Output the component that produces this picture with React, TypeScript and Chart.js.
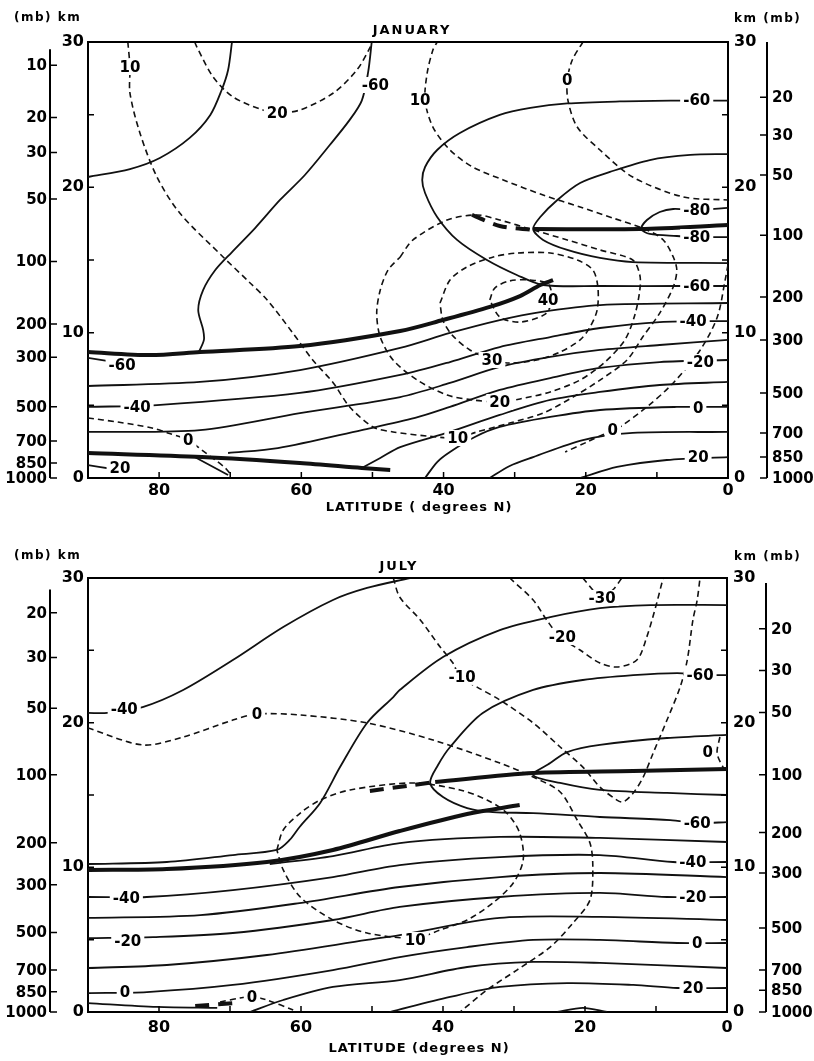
import React, { useEffect, useRef } from 'react';
import { Chart, registerables } from 'chart.js';

Chart.register(...registerables);

type Pt = [number, number]; // [latitude (deg N), height (km)]
type Lbl = [string, number, number];

const FONT = "'DejaVu Sans', sans-serif";

// ---------------- axis data ----------------
const latTickLabels = [80, 60, 40, 20, 0];
const latInnerTicks = [80, 70, 60, 50, 40, 30, 20, 10];
const kmTickLabels = [0, 10, 20, 30];
const kmInnerTicks = [5, 10, 15, 20, 25];

const janMbLeftText = ['10', '20', '30', '50', '100', '200', '300', '500', '700', '850', '1000'];
const janMbLeftKm = [28.4, 24.8, 22.4, 19.2, 14.9, 10.6, 8.3, 4.9, 2.55, 1.03, 0];
const janMbRightText = ['20', '30', '50', '100', '200', '300', '500', '700', '850', '1000'];
const janMbRightKm = [26.2, 23.6, 20.85, 16.7, 12.45, 9.5, 5.85, 3.1, 1.44, 0];
const julMbLeftText = ['20', '30', '50', '100', '200', '300', '500', '700', '850', '1000'];
const julMbLeftKm = [27.6, 24.5, 21.0, 16.4, 11.7, 8.8, 5.5, 2.9, 1.4, 0];
const julMbRightText = ['20', '30', '50', '100', '200', '300', '500', '700', '850', '1000'];
const julMbRightKm = [26.5, 23.6, 20.7, 16.4, 12.4, 9.6, 5.8, 2.9, 1.5, 0];

// ---------------- JANUARY: temperature (solid) ----------------
const janTUpperLeft: Pt[] = [[69.75, 30], [70.3, 28.07], [71.2, 26.7], [72.8, 24.98], [75.7, 23.4], [79.9, 22.02], [84.1, 21.26], [90, 20.71]];
const janTm60Top: Pt[] = [[50.1, 30], [50.6, 27.94], [51.5, 25.97], [53.2, 24.64], [56.0, 22.91], [59.5, 20.85], [63.0, 19.13], [66.5, 17.2], [69.75, 15.55], [72.1, 14.31], [73.8, 12.94], [74.5, 11.56], [73.8, 10.18], [73.7, 9.5], [74.4, 8.67]];
const janTm60Loop: Pt[] = [[0, 25.97], [4.4, 25.97], [7.0, 25.97], [15.2, 25.91], [22.6, 25.77], [27.8, 25.46], [32.1, 24.98], [37.7, 23.74], [40.9, 22.57], [42.6, 21.4], [43.0, 20.51], [42.6, 19.61], [40.9, 17.96], [38.1, 16.38], [33.9, 15.0], [29.7, 13.97], [26.0, 13.28], [18.0, 13.21], [7.0, 13.21], [0, 13.21]];
const janTm70: Pt[] = [[0, 22.29], [5.3, 22.23], [11.0, 21.88], [16.6, 21.06], [20.8, 20.3], [24.0, 19.13], [26.4, 17.96], [27.4, 17.13], [26.0, 16.38], [22.6, 15.69], [18.0, 15.14], [13.4, 14.86], [0, 14.79]];
const janTm80: Pt[] = [[0, 18.58], [4.4, 18.44], [7.7, 18.51], [9.6, 18.3], [11.4, 17.75], [12.2, 17.13], [11.0, 16.79], [7.2, 16.65], [4.4, 16.58], [0, 16.58]];
const janTm50: Pt[] = [[90, 6.33], [74.25, 6.61], [60.2, 7.43], [46.1, 8.95], [39.1, 9.98], [32.1, 10.87], [26.4, 11.42], [18.0, 11.9], [0, 12.04]];
const janTm40: Pt[] = [[90, 4.89], [80.3, 5.02], [60.2, 5.85], [46.1, 7.09], [39.1, 7.98], [32.1, 9.01], [25.0, 9.7], [18.0, 10.32], [9.6, 10.73], [0, 10.8]];
const janTm30: Pt[] = [[90, 3.17], [74.25, 3.3], [60.2, 4.47], [46.1, 5.57], [39.1, 6.54], [32.1, 7.64], [25.0, 8.33], [18.0, 8.81], [9.6, 9.15], [0, 9.5]];
const janTm20: Pt[] = [[70.3, 1.72], [63.3, 2.06], [51.5, 3.3], [44.0, 4.13], [39.1, 4.89], [32.1, 6.06], [25.0, 6.88], [18.0, 7.57], [9.6, 7.98], [0, 8.12]];
const janTm10: Pt[] = [[51.5, 0.69], [48.9, 1.38], [46.1, 2.13], [39.1, 3.17], [32.1, 4.34], [25.0, 5.37], [18.0, 5.92], [9.6, 6.4], [0, 6.61]];
const janT0: Pt[] = [[42.6, 0], [40.9, 1.1], [39.1, 1.79], [35.6, 2.82], [32.1, 3.51], [25.0, 4.2], [18.0, 4.68], [7.2, 4.89], [0, 4.89]];
const janT10: Pt[] = [[33.5, 0], [30.7, 0.83], [27.4, 1.44], [20.4, 2.61], [13.4, 3.1], [0, 3.17]];
const janT20: Pt[] = [[20.8, 0], [15.6, 0.76], [8.6, 1.24], [0, 1.44]];
const janTm60Stub: Pt[] = [[90, 8.26], [86.0, 7.95]];
const janTm20Stub: Pt[] = [[90, 0.89], [86.5, 0.62]];
const janTm20Surf: Pt[] = [[75.0, 1.44], [70.3, 0.21]];
// tropopause / inversion (thick)
const janTropPolar: Pt[] = [[90, 8.67], [81.3, 8.46], [74.25, 8.67], [60.2, 9.08], [46.1, 10.12], [40.1, 10.87], [33.5, 11.77], [29.25, 12.52], [26.4, 13.28], [24.6, 13.62]];
const janTropTropical: Pt[] = [[27.4, 17.13], [12.4, 17.13], [0, 17.41]];
const janInversion: Pt[] = [[90, 1.72], [74.0, 1.44], [60.2, 1.03], [51.5, 0.69], [47.5, 0.55]];
const janTropBreak: Pt[] = [[36.0, 18.1], [32.1, 17.34], [27.4, 17.07]];
// zonal wind (dashed)
const janU10: Pt[] = [[84.4, 30], [84.1, 28.28], [84.1, 26.49], [82.7, 23.74], [80.3, 20.71], [77.1, 18.23], [71.0, 15.21], [67.2, 13.42], [64.8, 12.25], [61.2, 9.98], [58.4, 8.12], [55.5, 6.54], [53.2, 4.89], [49.9, 3.51], [47.1, 3.17], [42.3, 2.89], [38.1, 2.75], [35.3, 3.17], [30.7, 3.78], [26.0, 4.47], [21.8, 5.57], [18.0, 6.74], [14.2, 8.12], [12.0, 9.7], [9.6, 11.35], [7.7, 13.14], [7.2, 14.31], [7.7, 15.21], [9.1, 16.38], [11.4, 17.07], [16.2, 17.89], [20.8, 18.65], [26.0, 19.47], [31.6, 20.51], [35.9, 21.4], [39.1, 22.57], [41.5, 24.15], [42.6, 25.97], [42.3, 27.87], [41.5, 29.45], [40.9, 30]];
const janU20Top: Pt[] = [[75.0, 30], [74.7, 29.66], [72.4, 27.59], [69.6, 26.22], [65.4, 25.32], [63.4, 25.12], [60.2, 25.32], [55.5, 26.49], [52.2, 28.07], [50.3, 29.66], [50.1, 30]];
const janU0Top: Pt[] = [[20.4, 30], [21.9, 28.76], [22.6, 27.39], [22.5, 25.97], [21.2, 24.15], [18.0, 22.57], [13.4, 20.71], [6.3, 19.34], [0, 19.13]];
const janU20Loop: Pt[] = [[46.1, 15.21], [44.3, 16.38], [39.5, 17.75], [35.3, 18.1], [32.1, 17.75], [27.4, 17.07], [22.6, 16.38], [18.0, 15.69], [13.4, 15.0], [12.4, 13.97], [12.4, 12.94], [13.1, 11.22], [14.5, 9.5], [17.3, 7.98], [20.8, 6.74], [25.0, 5.92], [29.25, 5.44], [32.1, 5.23], [35.9, 5.37], [39.5, 5.71], [43.7, 6.74], [47.1, 8.12], [48.9, 9.7], [49.4, 11.35], [48.9, 12.94], [47.8, 14.31], [46.1, 15.21]];
const janU30Loop: Pt[] = [[40.5, 12.04], [39.1, 13.62], [36.7, 14.52], [33.0, 15.21], [29.7, 15.48], [25.0, 15.48], [21.2, 15.0], [19.0, 14.31], [18.3, 13.14], [18.4, 11.56], [19.4, 10.39], [20.8, 9.5], [23.6, 8.67], [26.9, 8.12], [30.7, 7.91], [33.0, 8.12], [36.3, 8.81], [38.8, 9.84], [40.1, 10.87], [40.5, 12.04]];
const janU40Loop: Pt[] = [[33.5, 12.25], [32.8, 13.07], [30.7, 13.56], [27.8, 13.62], [25.3, 13.35], [24.75, 12.25], [25.7, 11.28], [29.25, 10.73], [32.1, 11.08], [33.5, 12.25]];
const janU0Low: Pt[] = [[0, 14.66], [0.4, 13.62], [1.5, 11.08], [3.9, 8.81], [7.7, 6.54], [11.4, 4.89], [15.2, 3.51], [16.2, 3.3], [19.8, 2.48], [22.9, 1.79]];
const janU0Left: Pt[] = [[90, 4.13], [85.8, 3.85], [81.0, 3.44], [78.8, 3.1], [75.9, 2.61], [74.0, 1.93], [72.1, 1.24], [70.7, 0.69], [69.75, 0.14]];

const janLabels: Lbl[] = [
  ['10', 84.1, 28.28], ['20', 63.4, 25.12], ['-60', 49.6, 27.04], ['10', 43.3, 25.97], ['0', 22.6, 27.39],
  ['-60', 4.4, 25.97], ['-80', 4.4, 18.44], ['-80', 4.4, 16.58], ['-60', 4.4, 13.21], ['40', 25.3, 12.25],
  ['-40', 4.9, 10.8], ['30', 33.2, 8.12], ['-20', 3.9, 7.98], ['20', 32.1, 5.23], ['0', 4.2, 4.82],
  ['10', 38.0, 2.75], ['0', 16.2, 3.3], ['20', 4.2, 1.44], ['-60', 85.2, 7.78], ['-40', 83.1, 4.89],
  ['0', 75.9, 2.61], ['20', 85.5, 0.69],
];

// ---------------- JULY: temperature (solid) ----------------
const julTm40Upper: Pt[] = [[90, 20.67], [87.3, 20.67], [82.3, 21.08], [76.6, 22.26], [69.6, 24.33], [62.5, 26.61], [55.5, 28.48], [50.7, 29.31], [44.65, 30]];
const julTm50: Pt[] = [[90, 10.23], [78.9, 10.37], [69.6, 10.85], [63.4, 11.2], [61.6, 11.89], [60.2, 12.79], [57.3, 14.45], [54.5, 16.93], [50.7, 19.98], [47.0, 21.77], [46.1, 22.26], [40.0, 24.54], [32.0, 26.4], [24.9, 27.3], [17.9, 27.92], [10.8, 28.13], [0, 28.13]];
const julTm50Low: Pt[] = [[64.4, 10.23], [55.5, 10.78], [46.1, 11.68], [32.0, 12.1], [17.9, 12.03], [0, 11.75]];
const julTm60: Pt[] = [[0, 23.29], [3.8, 23.29], [7.0, 23.43], [13.2, 23.29], [20.3, 22.95], [27.3, 22.26], [34.4, 20.67], [39.0, 18.32], [40.7, 17.07], [41.8, 15.83], [40.0, 14.86], [36.6, 14.1], [33.0, 13.82], [27.3, 13.75], [17.9, 13.48], [8.0, 13.27], [3.8, 13.06], [0, 13.13]];
const julTm70: Pt[] = [[0, 19.15], [8.45, 18.94], [17.9, 18.46], [22.5, 17.97], [24.9, 17.21], [27.3, 16.38], [23.5, 15.83], [17.9, 15.35], [8.45, 15.14], [0, 15.0]];
const julTm40: Pt[] = [[90, 7.95], [81.7, 7.95], [69.6, 8.43], [55.5, 9.33], [46.1, 10.16], [32.0, 10.71], [17.9, 10.85], [7.6, 10.37], [0, 10.37]];
const julTm30: Pt[] = [[90, 6.5], [74.2, 6.7], [60.2, 7.53], [46.1, 8.64], [32.0, 9.33], [17.9, 9.61], [0, 9.33]];
const julTm20: Pt[] = [[90, 5.11], [80.8, 5.18], [69.6, 5.46], [55.5, 6.36], [46.1, 7.26], [32.0, 7.95], [17.9, 8.23], [8.45, 7.95], [0, 7.95]];
const julTm10: Pt[] = [[90, 3.04], [78.9, 3.25], [64.8, 3.94], [50.7, 4.98], [46.1, 5.32], [32.0, 6.5], [17.9, 6.57], [0, 6.36]];
const julT0: Pt[] = [[90, 1.31], [81.7, 1.38], [69.6, 1.87], [55.5, 2.9], [46.1, 3.8], [36.6, 4.49], [27.3, 4.98], [17.9, 4.98], [7.0, 4.77], [0, 4.77]];
const julT10: Pt[] = [[67.2, 0], [62.5, 0.83], [55.5, 1.73], [46.1, 2.21], [36.6, 3.11], [27.3, 3.46], [17.9, 3.39], [0, 3.04]];
const julT20: Pt[] = [[47.5, 0], [39.0, 1.04], [32.0, 1.73], [22.5, 2.0], [13.2, 1.87], [7.0, 1.66], [0, 1.66]];
const julT25: Pt[] = [[23.9, 0], [20.3, 0.28], [16.9, 0]];
const julTSurface: Pt[] = [[90, 0.62], [80.3, 0.35], [71.8, 0.28]];
// tropopause (thick)
const julTropPolar: Pt[] = [[90, 9.82], [78.9, 9.88], [64.8, 10.37], [55.5, 11.2], [46.1, 12.51], [36.6, 13.69], [29.2, 14.31]];
const julTropTropical: Pt[] = [[41.1, 15.9], [27.3, 16.52], [13.2, 16.66], [0, 16.8]];
const julTropBreak: Pt[] = [[50.3, 15.28], [44.2, 15.69], [41.1, 15.9]];
const julSurfBreak: Pt[] = [[74.9, 0.41], [69.3, 0.62]];
// zonal wind (dashed)
const julU0: Pt[] = [[90, 19.63], [82.3, 18.46], [76.6, 19.01], [69.6, 20.18], [66.2, 20.6], [60.1, 20.53], [50.7, 19.98], [41.4, 18.8], [32.0, 17.21], [27.3, 16.24], [23.5, 15.21], [21.1, 13.27], [19.3, 11.68], [18.9, 10.02], [19.3, 7.74], [21.7, 6.15], [24.9, 4.49], [29.6, 2.9], [33.8, 1.52], [37.6, 0]];
const julUm10: Pt[] = [[47.0, 30], [46.1, 28.69], [43.2, 27.1], [40.4, 25.23], [38.6, 24.12], [37.6, 23.16], [35.2, 22.46], [32.0, 21.57], [27.3, 19.98], [23.5, 18.32], [20.3, 16.93], [17.9, 15.55], [15.5, 14.65], [14.6, 14.52], [13.2, 15.14], [11.8, 16.24], [10.4, 17.9], [8.45, 20.18], [6.6, 22.46], [5.6, 24.33], [4.8, 27.1], [4.2, 28.48], [3.8, 30]];
const julUm20: Pt[] = [[30.6, 30], [27.3, 28.48], [25.4, 27.1], [23.5, 25.92], [20.7, 25.02], [17.9, 24.12], [15.5, 23.85], [12.7, 24.33], [11.3, 25.92], [9.9, 28.27], [9.0, 30]];
const julUm30: Pt[] = [[20.3, 30], [18.9, 29.17], [17.9, 28.62], [16.1, 29.17], [14.8, 30]];
const julU0Right: Pt[] = [[1.0, 19.01], [1.4, 17.9], [0.56, 16.93], [0, 16.73]];
const julU10: Pt[] = [[63.4, 11.2], [62.5, 12.58], [60.1, 13.75], [57.3, 14.65], [53.1, 15.35], [44.2, 15.83], [37.6, 15.35], [33.8, 14.65], [31.0, 13.75], [29.2, 12.37], [28.7, 10.51], [30.1, 8.92], [33.0, 7.53], [36.6, 6.36], [40.4, 5.67], [43.9, 5.11], [50.7, 5.46], [55.5, 6.36], [60.1, 7.95], [62.5, 9.82], [63.4, 11.2]];
const julU0Surf: Pt[] = [[71.4, 0.69], [68.6, 0.97], [66.9, 1.04], [64.8, 0.83], [61.1, 0.14]];

const julLabels: Lbl[] = [
  ['-40', 84.9, 20.94], ['0', 66.2, 20.6], ['-10', 37.3, 23.16], ['-20', 23.2, 25.92], ['-30', 17.6, 28.62],
  ['-60', 3.8, 23.29], ['0', 2.7, 17.97], ['-60', 4.2, 13.06], ['-40', 4.8, 10.37], ['-20', 4.8, 7.95],
  ['0', 4.2, 4.77], ['20', 4.8, 1.66], ['-40', 84.6, 7.88], ['-20', 84.4, 4.91], ['0', 84.8, 1.38],
  ['10', 43.9, 4.98], ['0', 66.9, 1.04],
];

// ---------------- styles ----------------
const STYLE: Record<string, { w: number; dash: number[] }> = {
  thin: { w: 1.8, dash: [] },
  dash: { w: 1.6, dash: [6, 4] },
  thick: { w: 4, dash: [] },
  thickdash: { w: 4, dash: [14, 9] },
};

type Series = [Pt[], string];

const janSeries: Series[] = [
  [janTUpperLeft, 'thin'], [janTm60Top, 'thin'], [janTm60Loop, 'thin'], [janTm70, 'thin'], [janTm80, 'thin'],
  [janTm50, 'thin'], [janTm40, 'thin'], [janTm30, 'thin'], [janTm20, 'thin'], [janTm10, 'thin'], [janT0, 'thin'],
  [janT10, 'thin'], [janT20, 'thin'], [janTm60Stub, 'thin'], [janTm20Stub, 'thin'], [janTm20Surf, 'thin'],
  [janTropPolar, 'thick'], [janTropTropical, 'thick'], [janInversion, 'thick'], [janTropBreak, 'thickdash'],
  [janU10, 'dash'], [janU20Top, 'dash'], [janU0Top, 'dash'], [janU20Loop, 'dash'], [janU30Loop, 'dash'],
  [janU40Loop, 'dash'], [janU0Low, 'dash'], [janU0Left, 'dash'],
];

const julSeries: Series[] = [
  [julTm40Upper, 'thin'], [julTm50, 'thin'], [julTm50Low, 'thin'], [julTm60, 'thin'], [julTm70, 'thin'],
  [julTm40, 'thin'], [julTm30, 'thin'], [julTm20, 'thin'], [julTm10, 'thin'], [julT0, 'thin'], [julT10, 'thin'],
  [julT20, 'thin'], [julT25, 'thin'], [julTSurface, 'thin'],
  [julTropPolar, 'thick'], [julTropTropical, 'thick'], [julTropBreak, 'thickdash'], [julSurfBreak, 'thickdash'],
  [julU0, 'dash'], [julUm10, 'dash'], [julUm20, 'dash'], [julUm30, 'dash'], [julU0Right, 'dash'],
  [julU10, 'dash'], [julU0Surf, 'dash'],
];

interface Spec {
  height: number;
  padding: { left: number; right: number; top: number; bottom: number };
  xAxisHeight: number;
  xTickPad: number;
  title: string;
  titleDx: number;
  xTitle: string;
  xTitleY: number;
  cornerY: number;
  series: Series[];
  labels: Lbl[];
  mbLeftText: string[];
  mbLeftKm: number[];
  mbLeftTop: number;
  mbRightText: string[];
  mbRightKm: number[];
  mbRightTop: number;
}

function makeDecor(spec: Spec) {
  return {
    id: 'decor',
    afterDatasetsDraw(chart: any) {
      const ctx = chart.ctx;
      const x = chart.scales.x;
      const y = chart.scales.y;
      ctx.save();
      ctx.font = `bold 15px ${FONT}`;
      ctx.textAlign = 'center';
      ctx.textBaseline = 'middle';
      for (const [t, lat, km] of spec.labels) {
        const px = x.getPixelForValue(lat);
        const py = y.getPixelForValue(km);
        const w = ctx.measureText(t).width;
        ctx.fillStyle = '#fff';
        ctx.fillRect(px - w / 2 - 3, py - 8, w + 6, 16);
        ctx.fillStyle = '#000';
        ctx.fillText(t, px, py + 1);
      }
      ctx.restore();
    },
    afterDraw(chart: any) {
      const ctx = chart.ctx;
      const { left, right, top, bottom } = chart.chartArea;
      const x = chart.scales.x;
      const y = chart.scales.y;
      ctx.save();
      ctx.strokeStyle = '#000';
      ctx.fillStyle = '#000';
      // top frame
      ctx.lineWidth = 2;
      ctx.beginPath();
      ctx.moveTo(left - 1, top);
      ctx.lineTo(right + 1, top);
      ctx.stroke();
      // inner ticks
      ctx.lineWidth = 1.5;
      ctx.beginPath();
      for (const v of latInnerTicks) {
        const px = x.getPixelForValue(v);
        ctx.moveTo(px, bottom);
        ctx.lineTo(px, bottom - 6);
      }
      for (const v of kmInnerTicks) {
        const py = y.getPixelForValue(v);
        ctx.moveTo(left, py);
        ctx.lineTo(left + 6, py);
        ctx.moveTo(right, py);
        ctx.lineTo(right - 6, py);
      }
      ctx.stroke();
      // pressure axes
      const lx = left - 38;
      const rx = right + 39;
      ctx.lineWidth = 2;
      ctx.beginPath();
      ctx.moveTo(lx, y.getPixelForValue(spec.mbLeftTop));
      ctx.lineTo(lx, bottom);
      ctx.moveTo(rx, y.getPixelForValue(spec.mbRightTop));
      ctx.lineTo(rx, bottom);
      ctx.stroke();
      ctx.lineWidth = 1.5;
      ctx.beginPath();
      spec.mbLeftKm.forEach((km) => {
        const py = y.getPixelForValue(km);
        ctx.moveTo(lx, py);
        ctx.lineTo(lx + 7, py);
      });
      spec.mbRightKm.forEach((km) => {
        const py = y.getPixelForValue(km);
        ctx.moveTo(rx, py);
        ctx.lineTo(rx - 7, py);
      });
      ctx.stroke();
      ctx.font = `bold 15px ${FONT}`;
      ctx.textBaseline = 'middle';
      ctx.textAlign = 'right';
      spec.mbLeftText.forEach((t, i) => ctx.fillText(t, lx - 3, y.getPixelForValue(spec.mbLeftKm[i]) + 1));
      ctx.textAlign = 'left';
      spec.mbRightText.forEach((t, i) => ctx.fillText(t, rx + 5, y.getPixelForValue(spec.mbRightKm[i]) + 1));
      // titles
      (ctx as any).letterSpacing = '2px';
      ctx.font = `bold 13px ${FONT}`;
      ctx.textAlign = 'center';
      ctx.fillText(spec.title, left + spec.titleDx, top - 11);
      (ctx as any).letterSpacing = '1px';
      ctx.font = `bold 13px ${FONT}`;
      ctx.fillText(spec.xTitle, left + 331, spec.xTitleY);
      (ctx as any).letterSpacing = '1.5px';
      ctx.font = `bold 12px ${FONT}`;
      ctx.textAlign = 'left';
      ctx.fillText('(mb) km', 14, spec.cornerY);
      ctx.fillText('km (mb)', 734, spec.cornerY + 1);
      ctx.restore();
    },
  };
}

function buildConfig(spec: Spec): any {
  const tickFont = { family: FONT, size: 16, weight: 'bold' as const };
  return {
    type: 'scatter',
    data: {
      datasets: spec.series.map(([pts, kind]) => ({
        data: pts.map(([lat, km]) => ({ x: lat, y: km })),
        showLine: true,
        pointRadius: 0,
        pointHoverRadius: 0,
        borderColor: '#111',
        backgroundColor: '#111',
        borderWidth: STYLE[kind].w,
        borderDash: STYLE[kind].dash,
        borderCapStyle: 'butt',
        borderJoinStyle: 'round',
        tension: 0.3,
        fill: false,
      })),
    },
    options: {
      responsive: false,
      animation: false,
      devicePixelRatio: 1,
      events: [],
      layout: { padding: spec.padding },
      plugins: { legend: { display: false }, tooltip: { enabled: false }, title: { display: false } },
      scales: {
        x: {
          type: 'linear',
          position: 'bottom',
          reverse: true,
          min: 0,
          max: 90,
          afterBuildTicks: (a: any) => { a.ticks = latTickLabels.map((v) => ({ value: v })); },
          afterFit: (a: any) => { a.height = spec.xAxisHeight; },
          ticks: { color: '#000', font: tickFont, padding: spec.xTickPad, maxRotation: 0, autoSkip: false, callback: (v: any) => String(v) },
          grid: { display: false, drawTicks: false },
          border: { display: true, color: '#000', width: 2 },
        },
        y: {
          type: 'linear',
          position: 'left',
          min: 0,
          max: 30,
          afterBuildTicks: (a: any) => { a.ticks = kmTickLabels.map((v) => ({ value: v })); },
          afterFit: (a: any) => { a.width = 30; },
          ticks: { color: '#000', font: tickFont, padding: 4, callback: (v: any) => String(v) },
          grid: { display: false, drawTicks: false },
          border: { display: true, color: '#000', width: 2 },
        },
        y2: {
          type: 'linear',
          position: 'right',
          min: 0,
          max: 30,
          afterBuildTicks: (a: any) => { a.ticks = kmTickLabels.map((v) => ({ value: v })); },
          afterFit: (a: any) => { a.width = 30; },
          ticks: { color: '#000', font: tickFont, padding: 6, callback: (v: any) => String(v) },
          grid: { display: false, drawTicks: false },
          border: { display: true, color: '#000', width: 2 },
        },
      },
    },
    plugins: [makeDecor(spec)],
  };
}

const janSpec: Spec = {
  height: 520,
  padding: { left: 58, right: 56, top: 42, bottom: 0 },
  xAxisHeight: 42,
  xTickPad: 3,
  title: 'JANUARY',
  titleDx: 324,
  xTitle: 'LATITUDE ( degrees N)',
  xTitleY: 508,
  cornerY: 18,
  series: janSeries,
  labels: janLabels,
  mbLeftText: janMbLeftText,
  mbLeftKm: janMbLeftKm,
  mbLeftTop: 29.5,
  mbRightText: janMbRightText,
  mbRightKm: janMbRightKm,
  mbRightTop: 30,
};

const julSpec: Spec = {
  height: 541,
  padding: { left: 58, right: 57, top: 58, bottom: 0 },
  xAxisHeight: 49,
  xTickPad: 6,
  title: 'JULY',
  titleDx: 311,
  xTitle: 'LATITUDE (degrees N)',
  xTitleY: 529,
  cornerY: 36,
  series: julSeries,
  labels: julLabels,
  mbLeftText: julMbLeftText,
  mbLeftKm: julMbLeftKm,
  mbLeftTop: 29.2,
  mbRightText: julMbRightText,
  mbRightKm: julMbRightKm,
  mbRightTop: 29.65,
};

function Panel({ spec, top }: { spec: Spec; top: number }) {
  const ref = useRef<HTMLCanvasElement | null>(null);
  useEffect(() => {
    if (!ref.current) return;
    const chart = new Chart(ref.current, buildConfig(spec));
    return () => chart.destroy();
  }, [spec]);
  return (
    <canvas
      ref={ref}
      width={814}
      height={spec.height}
      style={{ position: 'absolute', left: 0, top, width: 814, height: spec.height, display: 'block' }}
    />
  );
}

export default function App() {
  return (
    <div style={{ position: 'absolute', left: 0, top: 0, width: 814, height: 1061, background: '#fff', overflow: 'hidden' }}>
      <Panel spec={janSpec} top={0} />
      <Panel spec={julSpec} top={520} />
    </div>
  );
}
